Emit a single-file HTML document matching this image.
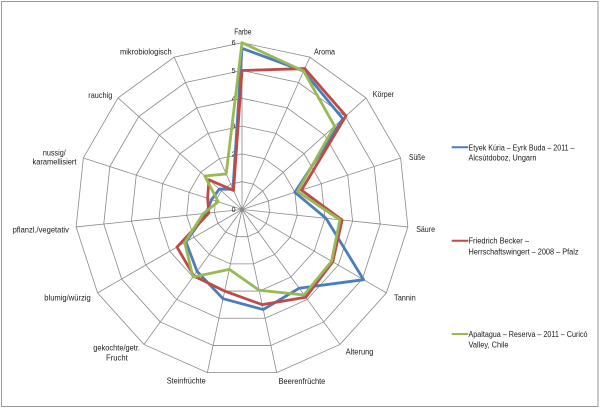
<!DOCTYPE html>
<html>
<head>
<meta charset="utf-8">
<style>
html,body{margin:0;padding:0;background:#fff;}
svg{display:block;}
text{font-family:"Liberation Sans",sans-serif;fill:#1a1a1a;}
</style>
</head>
<body>
<svg width="600" height="408" viewBox="0 0 600 408" xmlns="http://www.w3.org/2000/svg">
<rect x="0" y="0" width="600" height="408" fill="#fff"/>
<rect x="1.5" y="1.5" width="596.5" height="405" fill="none" stroke="#9a9a9a" stroke-width="1"/>

<!-- grid rings -->
<g fill="none" stroke="#8a8a8a" stroke-width="0.8">
<polygon vector-effect="non-scaling-stroke" transform="translate(242 209.5) scale(27.8)" points="0,-1 .4067,-.9135 .7431,-.6691 .9511,-.309 .9945,.1045 .866,.5 .5878,.809 .2079,.9781 -.2079,.9781 -.5878,.809 -.866,.5 -.9945,.1045 -.9511,-.309 -.7431,-.6691 -.4067,-.9135"/>
<polygon vector-effect="non-scaling-stroke" transform="translate(242 209.5) scale(55.6)" points="0,-1 .4067,-.9135 .7431,-.6691 .9511,-.309 .9945,.1045 .866,.5 .5878,.809 .2079,.9781 -.2079,.9781 -.5878,.809 -.866,.5 -.9945,.1045 -.9511,-.309 -.7431,-.6691 -.4067,-.9135"/>
<polygon vector-effect="non-scaling-stroke" transform="translate(242 209.5) scale(83.4)" points="0,-1 .4067,-.9135 .7431,-.6691 .9511,-.309 .9945,.1045 .866,.5 .5878,.809 .2079,.9781 -.2079,.9781 -.5878,.809 -.866,.5 -.9945,.1045 -.9511,-.309 -.7431,-.6691 -.4067,-.9135"/>
<polygon vector-effect="non-scaling-stroke" transform="translate(242 209.5) scale(111.2)" points="0,-1 .4067,-.9135 .7431,-.6691 .9511,-.309 .9945,.1045 .866,.5 .5878,.809 .2079,.9781 -.2079,.9781 -.5878,.809 -.866,.5 -.9945,.1045 -.9511,-.309 -.7431,-.6691 -.4067,-.9135"/>
<polygon vector-effect="non-scaling-stroke" transform="translate(242 209.5) scale(139)" points="0,-1 .4067,-.9135 .7431,-.6691 .9511,-.309 .9945,.1045 .866,.5 .5878,.809 .2079,.9781 -.2079,.9781 -.5878,.809 -.866,.5 -.9945,.1045 -.9511,-.309 -.7431,-.6691 -.4067,-.9135"/>
<polygon vector-effect="non-scaling-stroke" transform="translate(242 209.5) scale(166.8)" points="0,-1 .4067,-.9135 .7431,-.6691 .9511,-.309 .9945,.1045 .866,.5 .5878,.809 .2079,.9781 -.2079,.9781 -.5878,.809 -.866,.5 -.9945,.1045 -.9511,-.309 -.7431,-.6691 -.4067,-.9135"/>
<path vector-effect="non-scaling-stroke" transform="translate(242 209.5) scale(166.8)" d="M0 0L0 -1M0 0L.4067 -.9135M0 0L.7431 -.6691M0 0L.9511 -.309M0 0L.9945 .1045M0 0L.866 .5M0 0L.5878 .809M0 0L.2079 .9781M0 0L-.2079 .9781M0 0L-.5878 .809M0 0L-.866 .5M0 0L-.9945 .1045M0 0L-.9511 -.309M0 0L-.7431 -.6691M0 0L-.4067 -.9135"/>
</g>

<!-- tick labels -->
<g font-size="7" text-anchor="end">
<text x="235.5" y="45.2">6</text>
<text x="235.5" y="73">5</text>
<text x="235.5" y="100.8">4</text>
<text x="235.5" y="128.6">3</text>
<text x="235.5" y="156.4">2</text>
<text x="235.5" y="184.2">1</text>
<text x="235.5" y="212">0</text>
</g>

<!-- series -->
<g fill="none" stroke-width="2.8" stroke-linejoin="round" transform="translate(242 209.5) scale(27.8)">
<polygon vector-effect="non-scaling-stroke" stroke="#4a7ebb" points="0,-5.8 2.2165,-4.9786 3.6263,-3.2652 1.9022,-0.618 3.0233,0.3177 4.3733,2.525 2.0573,2.8315 0.7651,3.5994 -0.6819,3.2082 -1.6165,2.2248 -2.0178,1.165 -1.2929,0.1359 -1.0938,-0.3554 -0.8174,-0.736 -0.3254,-0.7308"/>
<polygon vector-effect="non-scaling-stroke" stroke="#be4b48" points="0,-5 2.2572,-5.0699 3.7378,-3.3656 2.14,-0.6953 3.6001,0.3783 3.2648,1.885 2.2924,3.1551 0.7277,3.4234 -0.6237,2.9343 -1.734,2.3866 -2.3382,1.35 -1.1934,0.1254 -1.2364,-0.4017 -1.189,-1.0706 -0.305,-0.6851"/>
<polygon vector-effect="non-scaling-stroke" stroke="#98b954" points="0,-6 2.2165,-4.9786 3.3291,-2.9976 1.9973,-0.6489 3.5205,0.3699 3.2215,1.86 2.2336,3.0742 0.6175,2.905 -0.4574,2.1518 -1.7634,2.427 -2.0611,1.19 -1.3923,0.1463 -0.856,-0.2781 -1.3376,-1.2044 -0.5694,-1.2789"/>
</g>

<!-- axis labels -->
<g font-size="8" lengthAdjust="spacingAndGlyphs">
<text x="234.2" y="34.5" textLength="17.2" lengthAdjust="spacingAndGlyphs">Farbe</text>
<text x="314" y="54.5" textLength="21" lengthAdjust="spacingAndGlyphs">Aroma</text>
<text x="372.8" y="97" textLength="21.2" lengthAdjust="spacingAndGlyphs">Körper</text>
<text x="409" y="160" textLength="16" lengthAdjust="spacingAndGlyphs">Süße</text>
<text x="416.2" y="231.8" textLength="18.8" lengthAdjust="spacingAndGlyphs">Säure</text>
<text x="394" y="300.6" textLength="21.8" lengthAdjust="spacingAndGlyphs">Tannin</text>
<text x="345.6" y="354.4" textLength="27.8" lengthAdjust="spacingAndGlyphs">Alterung</text>
<text x="278.6" y="384" textLength="46.7" lengthAdjust="spacingAndGlyphs">Beerenfrüchte</text>
<text x="166.7" y="383.7" textLength="39" lengthAdjust="spacingAndGlyphs">Steinfrüchte</text>
<text x="93.3" y="350.3" textLength="46.7" lengthAdjust="spacingAndGlyphs">gekochte/getr.</text>
<text x="106" y="360.3" textLength="21.7" lengthAdjust="spacingAndGlyphs">Frucht</text>
<text x="44.3" y="300.3" textLength="46.4" lengthAdjust="spacingAndGlyphs">blumig/würzig</text>
<text x="12.6" y="232.3" textLength="56.3" lengthAdjust="spacingAndGlyphs">pflanzl./vegetativ</text>
<text x="42.9" y="155.7" textLength="22.9" lengthAdjust="spacingAndGlyphs">nussig/</text>
<text x="32.5" y="164.7" textLength="44" lengthAdjust="spacingAndGlyphs">karamellisiert</text>
<text x="88.3" y="98" textLength="24" lengthAdjust="spacingAndGlyphs">rauchig</text>
<text x="120" y="54.7" textLength="51.7" lengthAdjust="spacingAndGlyphs">mikrobiologisch</text>
</g>

<!-- legend -->
<g stroke-width="2">
<line x1="451.7" y1="147.3" x2="468.3" y2="147.3" stroke="#4a7ebb"/>
<line x1="451.7" y1="240.7" x2="468.3" y2="240.7" stroke="#be4b48"/>
<line x1="451.7" y1="334" x2="468.3" y2="334" stroke="#98b954"/>
</g>
<g font-size="8">
<text x="468.5" y="150.3" textLength="106" lengthAdjust="spacingAndGlyphs">Etyek Kúria – Eyrk Buda – 2011 –</text>
<text x="468.5" y="160.7" textLength="68" lengthAdjust="spacingAndGlyphs">Alcsútdoboz, Ungarn</text>
<text x="468.5" y="243.7" textLength="60.5" lengthAdjust="spacingAndGlyphs">Friedrich Becker –</text>
<text x="468.5" y="254.4" textLength="110" lengthAdjust="spacingAndGlyphs">Herrschaftswingert – 2008 – Pfalz</text>
<text x="468.5" y="337" textLength="119" lengthAdjust="spacingAndGlyphs">Apaltagua – Reserva – 2011 – Curicó</text>
<text x="468.5" y="347.3" textLength="40" lengthAdjust="spacingAndGlyphs">Valley, Chile</text>
</g>
</svg>
</body>
</html>
